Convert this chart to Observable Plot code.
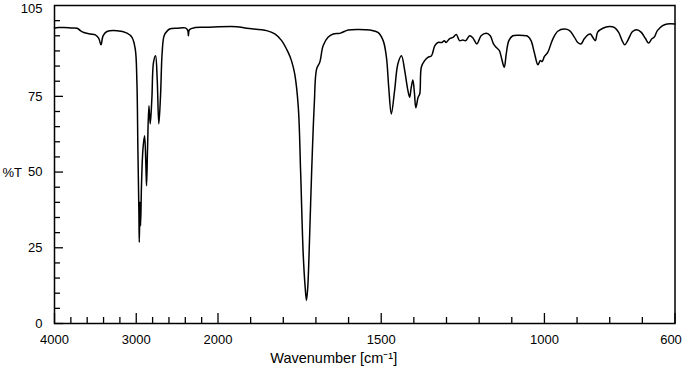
<!DOCTYPE html>
<html>
<head>
<meta charset="utf-8">
<script src="https://cdn.jsdelivr.net/npm/d3@7"></script>
<script src="https://cdn.jsdelivr.net/npm/@observablehq/plot@0.6"></script>
<style>
  html, body { margin: 0; padding: 0; background: #fff; }
</style>
</head>
<body>
<div id="chart"></div>
<script>
const wavenumber = [4000,3950,3886,3800,3723,3683,3642,3561,3500,3460,3431,3406,3358,3235,3113,3052,3012,2992,2980,2967,2963,2958,2955,2951,2947,2935,2918,2898,2882,2874,2862,2845,2829,2809,2789,2764,2744,2724,2703,2683,2659,2618,2585,2500,2400,2370,2362,2350,2280,2150,2050,1943,1912,1851,1826,1805,1785,1775,1765,1754,1747,1739,1733,1729,1725,1721,1713,1705,1698,1688,1678,1663,1647,1627,1601,1570,1535,1510,1494,1484,1477,1469,1459,1449,1438,1428,1420,1413,1408,1403,1398,1394,1387,1382,1377,1367,1357,1346,1336,1326,1314,1307,1301,1291,1280,1270,1260,1250,1241,1229,1219,1207,1194,1178,1166,1156,1148,1138,1131,1123,1117,1109,1097,1076,1056,1051,1041,1031,1020,1013,1007,1000,990,974,959,939,923,908,898,888,878,867,859,852,844,837,821,801,786,773,762,754,745,730,717,704,691,681,671,664,654,639,624,600];
const transmittance = [97.6,97.7,97.7,97.6,97.5,96.7,96.1,95.6,95.3,94.2,92.0,95.0,96.4,96.7,95.9,94.5,90.6,79.7,57.7,35.6,26.8,35,40.0,36,32.3,46.6,57.6,62.0,52.1,45.5,57.6,71.9,65.9,74.2,86.2,88.4,80.8,65.9,75.2,89.5,95.0,96.7,97.3,97.5,97.6,96.8,95.0,97.0,97.7,97.8,97.9,98.0,97.5,96.7,95.6,93.4,89.5,86.8,82.4,71.4,50.5,23.0,12,7.6,12,23,50.5,72.5,84.0,86.3,91.7,94.5,95.6,95.8,96.9,97.1,96.9,96.1,93.4,87.9,78.0,69.2,76.9,85.7,88.4,83.5,78.0,74.7,78.0,80.4,75.8,71.2,74.7,75.8,84.7,86.8,87.9,88.4,91.7,92.8,92.8,93.4,92.8,94.0,94.5,95.4,93.4,93.6,93.4,95.0,94.3,92.3,95.0,95.8,95.0,92.3,91.2,90.1,87.4,84.6,89.0,93.4,95.0,95.2,95.0,94.8,93.4,89.5,85.4,86.8,86.5,88.2,89.5,94.0,96.5,97.2,96.7,94.5,92.8,92.3,94.0,95.3,95.6,94.5,93.4,96.2,97.5,98.1,97.8,96.2,93.4,92.0,93.4,96.4,97.0,96.2,94.2,92.6,94.0,94.5,96.7,98.3,98.9,98.9];

const xLabelTicks = [4000, 3000, 2000, 1500, 1000];
const xEndLabel = [600];
const xMajorTicks = [4000, 3000, 2000, 1500, 1000, 600];
const xMinorTicks = [3800,3600,3400,3200,2800,2600,2400,2200,1900,1800,1700,1600,1400,1300,1200,1100,900,800,700];
const yLabelTicks = [0, 25, 50, 75];
const yTopLabel = [105];
const yMajorTicks = [0, 25, 50, 75];
const yMinorTicks = [5,10,15,20,30,35,40,45,55,60,65,70,80,85,90,95,100];
const yTitle = "%T";
const xTitle = "Wavenumber [cm\u207B\u00B9]";

const spectrum = wavenumber.map((w, i) => ({w, t: transmittance[i]}));

const chart = Plot.plot({
  width: 683,
  height: 375,
  marginLeft: 54,
  marginRight: 8.5,
  marginTop: 5,
  marginBottom: 52,
  style: {fontFamily: "'Liberation Sans', Arial, sans-serif", fontSize: "13px", color: "#000", background: "#fff"},
  x: {type: "linear", domain: [4000, 2000, 600], range: [54, 217.5, 674.5]},
  y: {type: "linear", domain: [0, 105], range: [323, 5]},
  marks: [
    Plot.line(spectrum, {x: "w", y: "t", stroke: "#000", strokeWidth: 1.5, curve: "catmull-rom"}),
    Plot.frame({stroke: "#000", strokeWidth: 1.5}),
    Plot.axisY(yMinorTicks, {tickSize: -6, fill: "none", label: null, strokeWidth: 1.3}),
    Plot.axisY(yMajorTicks, {tickSize: -9, fill: "none", label: null, strokeWidth: 1.3}),
    Plot.axisY(yLabelTicks, {tickSize: 0, tickPadding: 12, label: null, tickFormat: d => String(d)}),
    Plot.axisY(yTopLabel, {tickSize: 0, tickPadding: 12, dy: 3, label: null, tickFormat: d => String(d)}),
    Plot.axisX(xMinorTicks, {tickSize: -6, fill: "none", label: null, strokeWidth: 1.3}),
    Plot.axisX(xMajorTicks, {tickSize: -10, fill: "none", label: null, strokeWidth: 1.3}),
    Plot.axisX(xLabelTicks, {tickSize: 0, tickPadding: 11, label: null, tickFormat: d => String(d)}),
    Plot.axisX(xEndLabel, {tickSize: 0, tickPadding: 11, dx: -4, label: null, tickFormat: d => String(d)}),
    Plot.text([yTitle], {frameAnchor: "left", dx: -52, dy: 8, textAnchor: "start", fill: "#000"}),
    Plot.text([xTitle], {frameAnchor: "bottom", dx: -31, dy: 39, fill: "#000", fontSize: 14.5})
  ]
});
document.getElementById("chart").appendChild(chart);
</script>
</body>
</html>
